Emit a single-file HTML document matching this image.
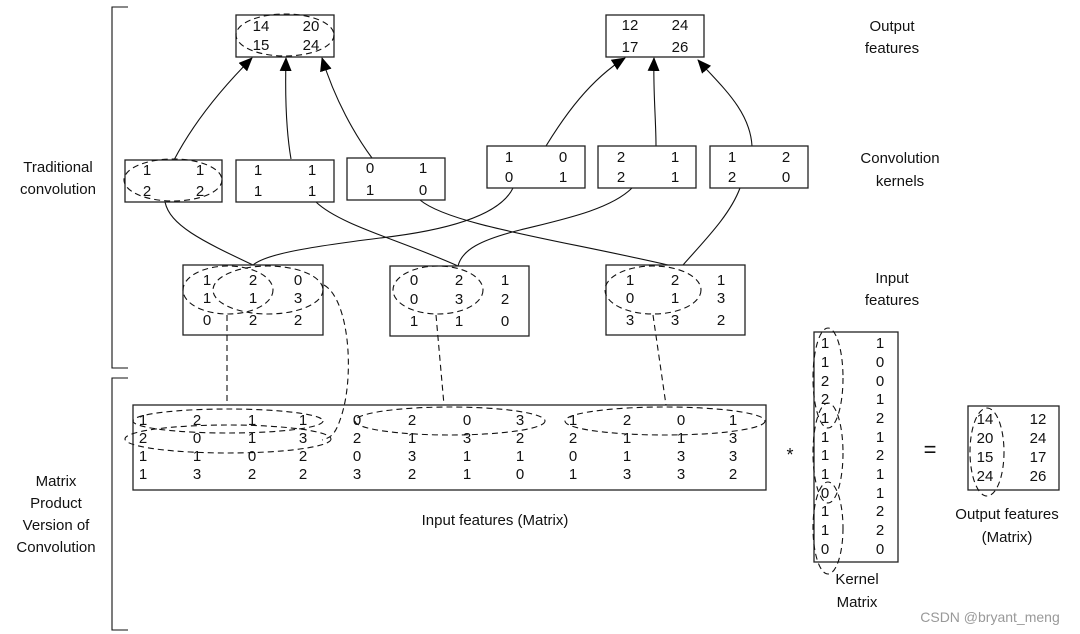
<!DOCTYPE html>
<html><head><meta charset="utf-8"><style>
body{margin:0;background:#fff;}
svg{display:block;font-family:"Liberation Sans",Arial,sans-serif;}
text{font-size:15px;fill:#111;}
.b{fill:#fff;stroke:#222;stroke-width:1.3;}
.l{fill:none;stroke:#111;stroke-width:1.1;}
.d{fill:none;stroke:#111;stroke-width:1.1;stroke-dasharray:6,4;}
.c text{text-anchor:middle;}
</style></head><body>
<svg width="1080" height="634" viewBox="0 0 1080 634">
<defs><marker id="a" markerWidth="14" markerHeight="12" refX="13" refY="6" orient="auto" markerUnits="userSpaceOnUse"><path d="M0,0 L14,6 L0,12z" fill="#000"/></marker></defs>
<path class="l" d="M128,7 H112 V368 H128"/>
<path class="l" d="M128,378 H112 V630 H128"/>
<path class="l" d="M174,160 C195,120 225,85 252,58" marker-end="url(#a)"/>
<path class="l" d="M291,159 C286,130 285,95 286,58" marker-end="url(#a)"/>
<path class="l" d="M372,158 C355,135 335,100 322,58" marker-end="url(#a)"/>
<path class="l" d="M546,146 C565,115 590,80 625,58" marker-end="url(#a)"/>
<path class="l" d="M656,146 C656,120 653,90 654,58" marker-end="url(#a)"/>
<path class="l" d="M752,146 C750,110 720,85 698,60" marker-end="url(#a)"/>
<path class="l" d="M165,202 C170,225 200,240 253,265"/>
<path class="l" d="M316,202 C340,225 400,240 458,266"/>
<path class="l" d="M420,200 C450,225 560,240 668,265"/>
<path class="l" d="M513,188 C500,215 450,230 380,238 C300,248 265,255 253,265"/>
<path class="l" d="M632,188 C610,210 560,220 520,230 C480,240 462,250 458,266"/>
<path class="l" d="M740,188 C730,215 705,240 683,265"/>
<rect class="b" x="236" y="15" width="98" height="42"/>
<rect class="b" x="606" y="15" width="98" height="42"/>
<rect class="b" x="125" y="160" width="97" height="42"/>
<rect class="b" x="236" y="160" width="98" height="42"/>
<rect class="b" x="347" y="158" width="98" height="42"/>
<rect class="b" x="487" y="146" width="98" height="42"/>
<rect class="b" x="598" y="146" width="98" height="42"/>
<rect class="b" x="710" y="146" width="98" height="42"/>
<rect class="b" x="183" y="265" width="140" height="70"/>
<rect class="b" x="390" y="266" width="139" height="70"/>
<rect class="b" x="606" y="265" width="139" height="70"/>
<rect class="b" x="133" y="405" width="633" height="85"/>
<rect class="b" x="814" y="332" width="84" height="230"/>
<rect class="b" x="968" y="406" width="91" height="84"/>
<g class="c">
<text x="261" y="31">14</text><text x="311" y="31">20</text><text x="261" y="50">15</text><text x="311" y="50">24</text>
<text x="630" y="30">12</text><text x="680" y="30">24</text><text x="630" y="52">17</text><text x="680" y="52">26</text>
<text x="147" y="175">1</text><text x="200" y="175">1</text><text x="147" y="196">2</text><text x="200" y="196">2</text>
<text x="258" y="175">1</text><text x="312" y="175">1</text><text x="258" y="196">1</text><text x="312" y="196">1</text>
<text x="370" y="173">0</text><text x="423" y="173">1</text><text x="370" y="195">1</text><text x="423" y="195">0</text>
<text x="509" y="162">1</text><text x="563" y="162">0</text><text x="509" y="182">0</text><text x="563" y="182">1</text>
<text x="621" y="162">2</text><text x="675" y="162">1</text><text x="621" y="182">2</text><text x="675" y="182">1</text>
<text x="732" y="162">1</text><text x="786" y="162">2</text><text x="732" y="182">2</text><text x="786" y="182">0</text>
<text x="207" y="285">1</text><text x="253" y="285">2</text><text x="298" y="285">0</text>
<text x="207" y="303">1</text><text x="253" y="303">1</text><text x="298" y="303">3</text>
<text x="207" y="325">0</text><text x="253" y="325">2</text><text x="298" y="325">2</text>
<text x="414" y="285">0</text><text x="459" y="285">2</text><text x="505" y="285">1</text>
<text x="414" y="304">0</text><text x="459" y="304">3</text><text x="505" y="304">2</text>
<text x="414" y="326">1</text><text x="459" y="326">1</text><text x="505" y="326">0</text>
<text x="630" y="285">1</text><text x="675" y="285">2</text><text x="721" y="285">1</text>
<text x="630" y="303">0</text><text x="675" y="303">1</text><text x="721" y="303">3</text>
<text x="630" y="325">3</text><text x="675" y="325">3</text><text x="721" y="325">2</text>
</g>
<g class="c">
<text y="425"><tspan x="143">1</tspan><tspan x="197">2</tspan><tspan x="252">1</tspan><tspan x="303">1</tspan><tspan x="357">0</tspan><tspan x="412">2</tspan><tspan x="467">0</tspan><tspan x="520">3</tspan><tspan x="573">1</tspan><tspan x="627">2</tspan><tspan x="681">0</tspan><tspan x="733">1</tspan></text>
<text y="443"><tspan x="143">2</tspan><tspan x="197">0</tspan><tspan x="252">1</tspan><tspan x="303">3</tspan><tspan x="357">2</tspan><tspan x="412">1</tspan><tspan x="467">3</tspan><tspan x="520">2</tspan><tspan x="573">2</tspan><tspan x="627">1</tspan><tspan x="681">1</tspan><tspan x="733">3</tspan></text>
<text y="461"><tspan x="143">1</tspan><tspan x="197">1</tspan><tspan x="252">0</tspan><tspan x="303">2</tspan><tspan x="357">0</tspan><tspan x="412">3</tspan><tspan x="467">1</tspan><tspan x="520">1</tspan><tspan x="573">0</tspan><tspan x="627">1</tspan><tspan x="681">3</tspan><tspan x="733">3</tspan></text>
<text y="479"><tspan x="143">1</tspan><tspan x="197">3</tspan><tspan x="252">2</tspan><tspan x="303">2</tspan><tspan x="357">3</tspan><tspan x="412">2</tspan><tspan x="467">1</tspan><tspan x="520">0</tspan><tspan x="573">1</tspan><tspan x="627">3</tspan><tspan x="681">3</tspan><tspan x="733">2</tspan></text>
</g>
<g class="c">
<text x="825" y="348">1</text><text x="880" y="348">1</text>
<text x="825" y="367">1</text><text x="880" y="367">0</text>
<text x="825" y="386">2</text><text x="880" y="386">0</text>
<text x="825" y="404">2</text><text x="880" y="404">1</text>
<text x="825" y="423">1</text><text x="880" y="423">2</text>
<text x="825" y="442">1</text><text x="880" y="442">1</text>
<text x="825" y="460">1</text><text x="880" y="460">2</text>
<text x="825" y="479">1</text><text x="880" y="479">1</text>
<text x="825" y="498">0</text><text x="880" y="498">1</text>
<text x="825" y="516">1</text><text x="880" y="516">2</text>
<text x="825" y="535">1</text><text x="880" y="535">2</text>
<text x="825" y="554">0</text><text x="880" y="554">0</text>
<text x="985" y="424">14</text><text x="1038" y="424">12</text>
<text x="985" y="443">20</text><text x="1038" y="443">24</text>
<text x="985" y="462">15</text><text x="1038" y="462">17</text>
<text x="985" y="481">24</text><text x="1038" y="481">26</text>
</g>
<ellipse class="d" cx="285" cy="35" rx="49" ry="21"/>
<ellipse class="d" cx="173" cy="180" rx="49" ry="21"/>
<ellipse class="d" cx="228" cy="290" rx="45" ry="24"/>
<ellipse class="d" cx="268" cy="290" rx="55" ry="24"/>
<ellipse class="d" cx="438" cy="290" rx="45" ry="24"/>
<ellipse class="d" cx="653" cy="290" rx="48" ry="24"/>
<ellipse class="d" cx="228" cy="421" rx="95" ry="12"/>
<ellipse class="d" cx="228" cy="439" rx="103" ry="14"/>
<ellipse class="d" cx="450" cy="421" rx="95" ry="14"/>
<ellipse class="d" cx="665" cy="421" rx="100" ry="14"/>
<ellipse class="d" cx="828" cy="378" rx="15" ry="50"/>
<ellipse class="d" cx="828" cy="453" rx="15" ry="50"/>
<ellipse class="d" cx="828" cy="528" rx="15" ry="46"/>
<ellipse class="d" cx="987" cy="452" rx="17" ry="44"/>
<path class="d" d="M227,315 V405"/>
<path class="d" d="M436,315 L444,405"/>
<path class="d" d="M653,315 L666,405"/>
<path class="d" d="M324,285 C350,300 355,380 340,420 C335,435 330,438 322,440"/>
<g class="c">
<text x="892" y="31">Output</text><text x="892" y="53">features</text>
<text x="900" y="163">Convolution</text><text x="900" y="186">kernels</text>
<text x="892" y="283">Input</text><text x="892" y="305">features</text>
<text x="58" y="172">Traditional</text><text x="58" y="194">convolution</text>
<text x="56" y="486">Matrix</text><text x="56" y="508">Product</text><text x="56" y="530">Version of</text><text x="56" y="552">Convolution</text>
<text x="495" y="525">Input features (Matrix)</text>
<text x="857" y="584">Kernel</text><text x="857" y="607">Matrix</text>
<text x="1007" y="519">Output features</text><text x="1007" y="542">(Matrix)</text>
<text x="790" y="461" style="font-size:18px">*</text>
<text x="930" y="457" style="font-size:22px">=</text>
<text x="990" y="622" style="fill:#999;font-size:14px">CSDN @bryant_meng</text>
</g>
</svg>
</body></html>
